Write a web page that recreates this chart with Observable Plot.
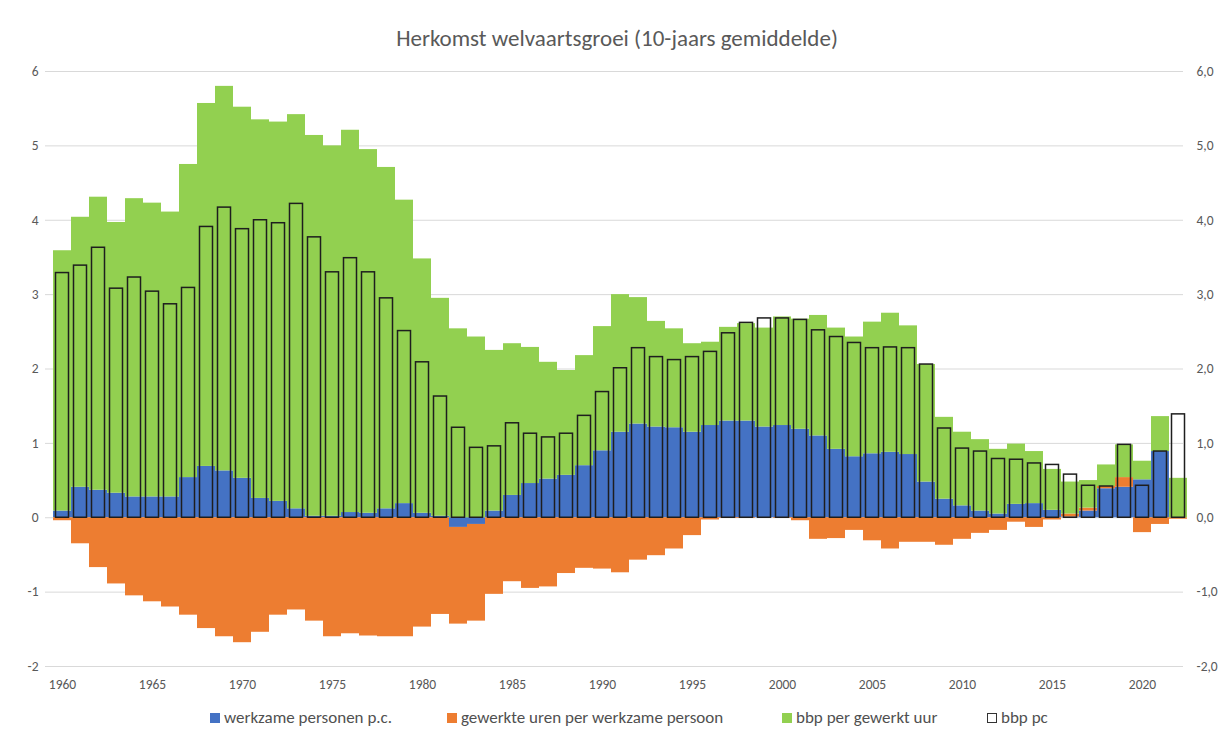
<!DOCTYPE html>
<html><head><meta charset="utf-8">
<script src="https://cdn.jsdelivr.net/npm/d3@7"></script>
<script src="https://cdn.jsdelivr.net/npm/@observablehq/plot@0.6"></script>
<style>
body{margin:0;background:#fff;font-family:Carlito,Lato,"Open Sans",sans-serif;}
#title{height:55px;box-sizing:border-box;padding-top:27px;text-align:center;font-size:23px;line-height:23px;color:#595959;padding-left:8px;}
#chart svg{display:block;}
#chart svg text{font-size:13.5px !important;}
#legend{position:relative;height:20px;margin-top:13px;font-size:17px;line-height:20px;color:#505050;}
#legend .it{position:absolute;top:0;display:flex;align-items:center;gap:4px;white-space:nowrap;}
#legend .sw{width:10px;height:10px;box-sizing:border-box;display:inline-block;}
</style></head><body>
<div id="title">Herkomst welvaartsgroei (10-jaars gemiddelde)</div>
<div id="chart"></div>
<div id="legend"></div>
<script>
const years = [1960,1961,1962,1963,1964,1965,1966,1967,1968,1969,1970,1971,1972,1973,1974,1975,1976,1977,1978,1979,1980,1981,1982,1983,1984,1985,1986,1987,1988,1989,1990,1991,1992,1993,1994,1995,1996,1997,1998,1999,2000,2001,2002,2003,2004,2005,2006,2007,2008,2009,2010,2011,2012,2013,2014,2015,2016,2017,2018,2019,2020,2021,2022];
const xTicks = [1960,1965,1970,1975,1980,1985,1990,1995,2000,2005,2010,2015,2020];
const yTicks = [-2,-1,0,1,2,3,4,5,6];
const seriesNames = ["werkzame personen p.c.","gewerkte uren per werkzame persoon","bbp per gewerkt uur"];
const seriesColors = ["#4472C4","#ED7D31","#92D050"];
const totalName = "bbp pc";

// werkzame personen p.c.
const werkzame = [0.09,0.41,0.37,0.33,0.28,0.28,0.28,0.54,0.69,0.63,0.53,0.26,0.22,0.12,0.02,0.02,0.07,0.06,0.12,0.19,0.06,0.02,-0.13,-0.09,0.09,0.30,0.46,0.52,0.57,0.70,0.90,1.15,1.26,1.22,1.21,1.15,1.24,1.30,1.30,1.22,1.24,1.19,1.10,0.92,0.82,0.86,0.88,0.85,0.48,0.25,0.16,0.09,0.05,0.18,0.19,0.10,0.01,0.09,0.39,0.41,0.51,0.89,0.00];
// gewerkte uren per werkzame persoon
const uren = [-0.04,-0.35,-0.67,-0.89,-1.05,-1.13,-1.20,-1.31,-1.49,-1.60,-1.68,-1.54,-1.31,-1.24,-1.39,-1.60,-1.56,-1.59,-1.60,-1.60,-1.47,-1.30,-1.30,-1.30,-1.03,-0.86,-0.95,-0.93,-0.75,-0.68,-0.69,-0.74,-0.57,-0.51,-0.42,-0.24,-0.03,-0.01,-0.01,0.00,-0.01,-0.04,-0.29,-0.28,-0.17,-0.31,-0.42,-0.33,-0.33,-0.37,-0.29,-0.21,-0.17,-0.06,-0.13,-0.03,0.04,0.04,0.03,0.13,-0.20,-0.09,-0.02];
// bbp per gewerkt uur
const bbpUur = [3.50,3.63,3.94,3.64,4.01,3.95,3.83,4.21,4.88,5.17,4.99,5.09,5.10,5.30,5.12,4.98,5.14,4.89,4.59,4.08,3.42,2.93,2.54,2.43,2.16,2.04,1.83,1.57,1.41,1.48,1.67,1.85,1.70,1.42,1.33,1.19,1.12,1.26,1.31,1.33,1.46,1.48,1.62,1.63,1.61,1.77,1.87,1.73,1.58,1.10,0.99,0.96,0.87,0.81,0.70,0.55,0.43,0.37,0.29,0.44,0.25,0.47,0.53];
// bbp pc
const bbpPc = [3.29,3.39,3.63,3.08,3.23,3.04,2.87,3.09,3.91,4.17,3.88,4.00,3.96,4.22,3.77,3.30,3.49,3.30,2.95,2.51,2.09,1.63,1.21,0.94,0.96,1.27,1.13,1.08,1.13,1.37,1.69,2.01,2.28,2.16,2.12,2.16,2.23,2.48,2.62,2.68,2.68,2.66,2.52,2.43,2.35,2.28,2.29,2.28,2.06,1.20,0.93,0.89,0.79,0.78,0.73,0.71,0.58,0.43,0.42,0.98,0.43,0.89,1.39];

const seriesValues = [werkzame, uren, bbpUur];
const stacked = [];
years.forEach((yr, i) => {
  seriesNames.forEach((s, k) => stacked.push({year: yr, series: s, value: seriesValues[k][i]}));
});
const totals = years.map((yr, i) => ({year: yr, value: bbpPc[i]}));

const chart = Plot.plot({
  width: 1226,
  height: 640,
  marginTop: 16,
  marginBottom: 29,
  marginLeft: 53,
  marginRight: 39,
  style: {fontFamily: "Carlito, Lato, 'Open Sans', sans-serif", fontSize: "13.5px", color: "#595959", background: "#fff"},
  x: {type: "band", domain: years, padding: 0, axis: null},
  y: {domain: [-2, 6], axis: null},
  color: {domain: seriesNames, range: seriesColors},
  marks: [
    Plot.ruleY(yTicks, {stroke: "#d9d9d9", strokeWidth: 1, insetLeft: -8, insetRight: 4}),
    Plot.barY(stacked, Plot.stackY({x: "year", y: "value", fill: "series"})),
    Plot.barY(totals, {x: "year", y: "value", fill: "none", stroke: "#1e1e1e", strokeWidth: 1.5, insetLeft: 2.5, insetRight: 2.5}),
    Plot.axisX({ticks: xTicks, label: null, tickSize: 0, tickPadding: 13, tickFormat: d => String(d), fill: "#595959", fontSize: 13.5}),
    Plot.axisY({anchor: "left", ticks: yTicks, label: null, tickSize: 0, tickPadding: 15, tickFormat: d => String(d), fill: "#595959", fontSize: 13.5}),
    Plot.axisY({anchor: "right", ticks: yTicks, label: null, tickSize: 0, tickPadding: 9, tickFormat: d => d.toFixed(1).replace(".", ","), fill: "#595959", fontSize: 13.5})
  ]
});
chart.querySelectorAll("text").forEach(t => { t.style.fontSize = "13.5px"; });
document.getElementById("chart").appendChild(chart);

const legendLefts = [210, 447, 782, 987];
const legend = document.getElementById("legend");
seriesNames.concat([totalName]).forEach((name, k) => {
  const it = document.createElement("span");
  it.className = "it";
  it.style.left = legendLefts[k] + "px";
  const sw = document.createElement("span");
  sw.className = "sw";
  if (k < seriesColors.length) sw.style.background = seriesColors[k];
  else sw.style.border = "1.4px solid #333";
  const tx = document.createElement("span");
  tx.textContent = name;
  it.appendChild(sw); it.appendChild(tx);
  legend.appendChild(it);
});
</script>
</body></html>
